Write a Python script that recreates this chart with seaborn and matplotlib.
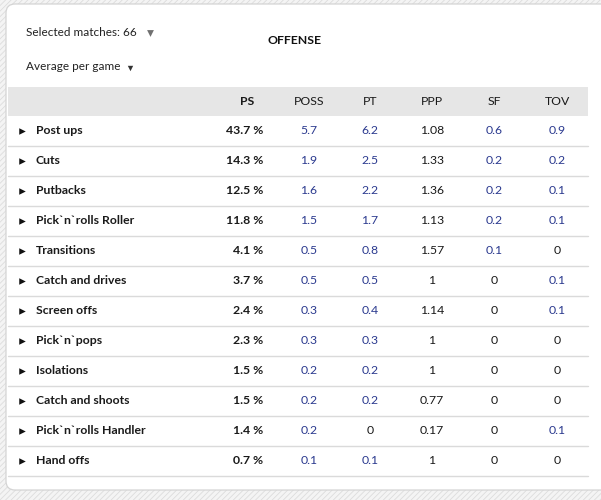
import numpy as np
import pandas as pd
import seaborn as sns
import matplotlib.pyplot as plt
from matplotlib.patches import FancyBboxPatch, Rectangle

categories = ["Post ups", "Cuts", "Putbacks", "Pick`n`rolls Roller", "Transitions",
              "Catch and drives", "Screen offs", "Pick`n`pops", "Isolations",
              "Catch and shoots", "Pick`n`rolls Handler", "Hand offs"]
ps = [43.7, 14.3, 12.5, 11.8, 4.1, 3.7, 2.4, 2.3, 1.5, 1.5, 1.4, 0.7]
poss = [5.7, 1.9, 1.6, 1.5, 0.5, 0.5, 0.3, 0.3, 0.2, 0.2, 0.2, 0.1]
pt = [6.2, 2.5, 2.2, 1.7, 0.8, 0.5, 0.4, 0.3, 0.2, 0.2, 0, 0.1]
ppp = [1.08, 1.33, 1.36, 1.13, 1.57, 1, 1.14, 1, 1, 0.77, 0.17, 1]
sf = [0.6, 0.2, 0.2, 0.2, 0.1, 0, 0, 0, 0, 0, 0, 0]
tov = [0.9, 0.2, 0.1, 0.1, 0, 0.1, 0.1, 0, 0, 0, 0.1, 0]
columns = ["PS", "POSS", "PT", "PPP", "SF", "TOV"]
title = "OFFENSE"
selector1 = "Selected matches: 66"
selector2 = "Average per game"

df = pd.DataFrame({"category": categories, "PS": ps, "POSS": poss, "PT": pt,
                   "PPP": ppp, "SF": sf, "TOV": tov})

sns.set_theme(style="white")
plt.rcParams['font.family'] = ['Lato', 'DejaVu Sans']
plt.rcParams['hatch.linewidth'] = 0.6
plt.rcParams['hatch.color'] = '#dedede'

FS = 8.8
BLUE = '#2b3a8f'
DARK = '#1a1a1a'

fig = plt.figure(figsize=(6.01, 5.0), dpi=100)
ax = fig.add_axes([0, 0, 1, 1])
ax.set_xlim(0, 601)
ax.set_ylim(500, 0)
ax.axis('off')

# hatched page background
ax.add_patch(Rectangle((0, 0), 601, 500, facecolor='#f4f4f4', edgecolor='#dcdcdc',
                       hatch='//////', lw=0, zorder=0))
# card
ax.add_patch(FancyBboxPatch((6, 4), 640, 486, boxstyle="round,pad=0,rounding_size=9",
                            facecolor='white', edgecolor='#d4d4d4', lw=0.9, zorder=1))

# header controls
ax.text(26, 33, selector1, fontsize=8.5, color='#222222', va='center', ha='left', zorder=3)
ax.scatter([150], [33], marker='v', s=24, color='#707070', lw=0, zorder=3)
ax.text(26, 67, selector2, fontsize=8.5, color='#222222', va='center', ha='left', zorder=3)
ax.scatter([130], [68], marker='v', s=15, color='#333333', lw=0, zorder=3)
ax.text(295, 40, title, fontsize=FS, fontweight='bold', color='#111111',
        va='center', ha='center', zorder=3)

# table header band
ax.add_patch(Rectangle((8, 87), 580, 29, facecolor='#e6e6e6', edgecolor='none', zorder=2))
col_x = [247, 309, 370, 432, 494, 557]
for c, x in zip(columns, col_x):
    ax.text(x, 101.5, c, fontsize=FS, fontweight='bold' if c == 'PS' else 'normal',
            color=DARK, ha='center', va='center', zorder=3)

row_y = 131 + 30 * np.arange(len(df))
# separators
for y in row_y:
    ax.plot([8, 588], [y + 15, y + 15], color='#dadada', lw=1.0, zorder=2)

# expand markers
sns.scatterplot(x=np.full(len(df), 21.5), y=row_y, marker='>', s=22, color='#111111',
                linewidth=0, ax=ax, zorder=3, legend=False)

for i, row in df.iterrows():
    y = row_y[i]
    ax.text(36, y, row['category'], fontsize=FS, fontweight='bold', color=DARK,
            ha='left', va='center', zorder=3)
    ax.text(263, y, f"{row['PS']:g} %", fontsize=FS, fontweight='bold', color=DARK,
            ha='right', va='center', zorder=3)
    for c, x in zip(columns[1:], col_x[1:]):
        v = row[c]
        color = BLUE if (c != 'PPP' and v != 0) else DARK
        ax.text(x, y, f"{v:g}", fontsize=FS, color=color, ha='center', va='center', zorder=3)

ax.set_xlim(0, 601)
ax.set_ylim(500, 0)
fig.savefig('out.png', dpi=100)
